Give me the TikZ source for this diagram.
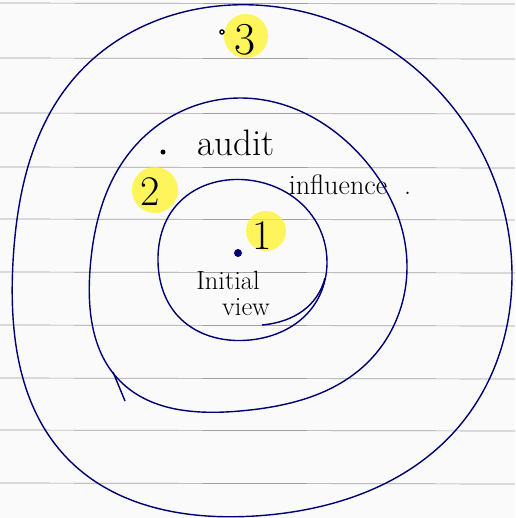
\documentclass[tikz,border=0pt]{standalone}
\usetikzlibrary{hobby}
\begin{document}
\begin{tikzpicture}[x=0.02cm,y=-0.02cm]
            \useasboundingbox (0,0) rectangle (515,518);
            \fill[gray!4] (0,0) rectangle (515,518);
            \foreach \ly in {3,58,113,167,219,272,325,378,430,483}
                \draw[gray!75, thin] (0,\ly) -- (515,\ly+1);
            \fill[yellow!85, opacity=0.75] (246,36) circle (22);
            \fill[yellow!85, opacity=0.75] (155,190) circle (23);
            \fill[yellow!85, opacity=0.75] (266,231) circle (20);
            \draw[blue!45!black, thick] plot[closed hobby] coordinates {(255,5) (432,84) (512,275) (455,431) (255,516) (67,458) (13,262) (76,76)};
            \draw[blue!45!black, thick] plot[closed hobby] coordinates {(240,98) (362,157) (407,265) (365,365) (240,411) (120,381) (90,270) (130,152)};
            \draw[blue!45!black, thick] (113,372) -- (125,401);
            \draw[blue!45!black, thick] plot[closed hobby] coordinates {(248,180) (315,220) (327,262) (312,308) (250,340) (177,315) (158,262) (175,207)};
            \draw[blue!45!black, thick] (325,278) .. controls (318,305) and (295,322) .. (262,325);
            \fill[blue!45!black] (238,253) circle (4);
            \fill[black] (163,152) circle (2.5);
            \draw[black, thick] (222,32) circle (2);
            \node[font=\fontsize{21}{24}\selectfont] (audit) at (236,143) {audit};
            \node[font=\fontsize{16}{19}\selectfont] (influence) at (350,185) {influence\ \ .};
            \node[font=\fontsize{15}{18}\selectfont] (initial) at (228,280) {Initial};
            \node[font=\fontsize{15}{18}\selectfont] (view) at (246,307) {view};
            \node[font=\fontsize{26}{30}\selectfont] (three) at (245,40) {3};
            \node[font=\fontsize{24}{28}\selectfont] (two) at (150,192) {2};
            \node[font=\fontsize{24}{28}\selectfont] (one) at (262,236) {1};
        \end{tikzpicture}
\end{document}
